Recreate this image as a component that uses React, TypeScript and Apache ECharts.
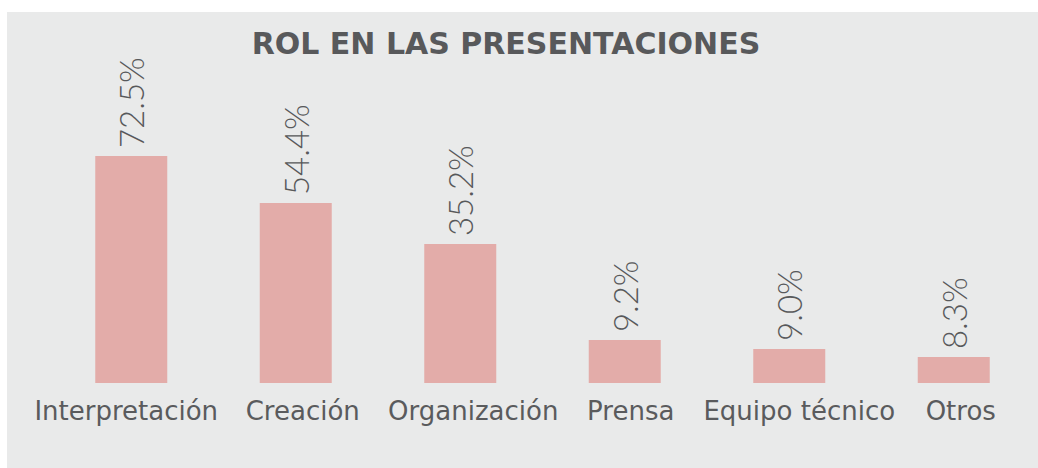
import React, { useEffect, useRef } from "react";
import * as echarts from "echarts";

const titleText = "ROL EN LAS PRESENTACIONES";
const categories = ["Interpretación", "Creación", "Organización", "Prensa", "Equipo técnico", "Otros"];
// printed labels
const labelValues = [72.5, 54.4, 35.2, 9.2, 9.0, 8.3];
// bar heights as drawn in the picture (same % scale as the first bar)
const barHeights = [72.5, 57.5, 44.4, 13.7, 10.9, 8.3];

// small horizontal nudges of category labels (layout only)
const labelNudge = [-5, 7, 13, 6, 10, 7];

const labelFont = { color: "#5a5b5d", fontSize: 26, fontFamily: "DejaVu Sans" };
const rich: Record<string, any> = {};
labelNudge.forEach((n, i) => {
  rich["s" + i] = {
    ...labelFont,
    padding: n >= 0 ? [0, 0, 0, 2 * n] : [0, -2 * n, 0, 0],
  };
});

export default function App() {
  const ref = useRef<HTMLDivElement>(null);
  useEffect(() => {
    const chart = echarts.init(ref.current!, undefined, { renderer: "svg" });
    chart.setOption({
      animation: false,
      backgroundColor: "#ffffff",
      graphic: [
        { type: "rect", z: -10, shape: { x: 7, y: 12, width: 1031, height: 456 }, style: { fill: "#e9eaea" } },
        {
          type: "text", x: 506, y: 43, z: 10,
          style: {
            text: titleText, fill: "#58595b", font: "bold 30px 'DejaVu Sans'",
            align: "center", verticalAlign: "middle",
          },
        },
      ],
      grid: { left: 49, right: 2, top: 70, bottom: 85 },
      xAxis: {
        type: "category",
        data: categories,
        axisLine: { show: false },
        axisTick: { show: false },
        axisLabel: {
          ...labelFont,
          margin: 15,
          interval: 0,
          formatter: (v: string, i: number) => `{s${i}|${v}}`,
          rich,
        },
      },
      yAxis: { type: "value", min: 0, max: 100, show: false, splitLine: { show: false } },
      series: [
        {
          type: "bar",
          data: barHeights,
          barWidth: 72,
          itemStyle: { color: "#e3aca9" },
          label: {
            show: true,
            position: "top",
            rotate: 90,
            align: "left",
            verticalAlign: "middle",
            distance: 8,
            color: "#58595b",
            fontSize: 33,
            fontFamily: "Lato",
            fontWeight: 300,
            formatter: (p: any) => labelValues[p.dataIndex].toFixed(1) + "%",
          },
        },
      ],
    });
    return () => chart.dispose();
  }, []);
  return <div ref={ref} style={{ position: "fixed", left: 0, top: 0, width: 1038, height: 468 }} />;
}
